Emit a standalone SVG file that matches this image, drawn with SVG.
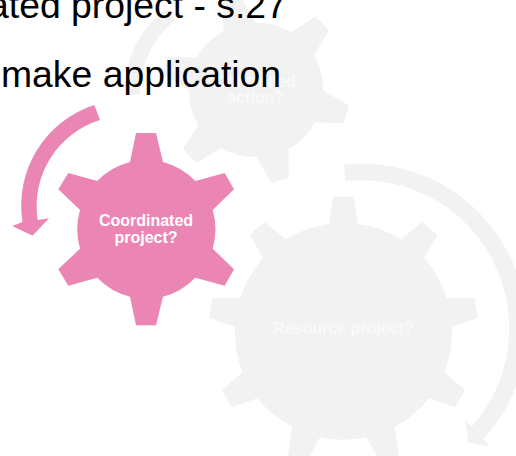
<svg xmlns="http://www.w3.org/2000/svg" width="516" height="456" viewBox="0 0 516 456">
<style>
.title{font-family:"Liberation Sans",Arial,sans-serif;font-size:37.33px;fill:#000}
.label{font-family:"Liberation Sans",Arial,sans-serif;font-size:16px;font-weight:700;fill:#fff;text-anchor:middle}
.faint{fill-opacity:.6}
.pink{fill:#eb85b4}
.grey{fill:#f2f2f2}
</style>
<defs>
<path id="gear6" d="M-10,-96 H10 L17,-67 A69,69 0 0 1 49.3,-48 L78.7,-56 L88,-39.7 L66.7,-19 A69,69 0 0 1 66.7,19.7 L88,40.3 L78.7,56.7 L49.3,48.7 A69,69 0 0 1 17,67.7 L10,96.3 H-10 L-16,67.7 A69,69 0 0 1 -48.7,48.7 L-77.7,56.7 L-87.7,40.3 L-66,19.7 A69,69 0 0 1 -66,-19 L-87.7,-39.7 L-77.7,-56 L-48.7,-48 A69,69 0 0 1 -16,-67 Z"/>
</defs>
<g id="connectors">
<path class="pink" d="M94.3,105 A105.7,105.7 0 0 0 22.5,222 L12.3,226 L32.5,235.7 L49,218.3 L37.7,220 A90,90 0 0 1 100,120 Z"/>
<path class="grey" d="M344,164.7 A164.5,164.5 0 0 1 483.3,439.3 L490,446.7 L468.3,442.7 L465,420 L471.7,426.7 A148,148 0 0 0 345.7,181 Z"/>
<path class="grey" d="M125,95 C124,60 140,28 166,9 L175,20 C153,38 140,64 140,95 Z"/>
</g>
<g id="node-controlled-action">
<use href="#gear6" class="grey" transform="translate(256,89.5) rotate(45) scale(.975)"/>
<text class="label faint" x="255.7" y="86.7">Controlled</text>
<text class="label faint" x="255.7" y="102.7">action?</text>
</g>
<g id="node-resource-project">
<path class="grey" d="M333.3,196.7 H353.7 L358,224 A108,108 0 0 1 401.3,239.3 L422.3,222 L437.3,234.7 L424,258.3 A108,108 0 0 1 446.7,298 H474.3 L477.7,318 L451.7,327 A108,108 0 0 1 444.3,372.3 L465,390 L455,407.3 L429,398.3 A108,108 0 0 1 394.7,426.7 L399,456 H376.7 L366.3,437.3 A108,108 0 0 1 320,437.3 L310,456 H288 L292.3,426.7 A108,108 0 0 1 257.3,398.3 L232,407.3 L222,390 L242.7,372.3 A108,108 0 0 1 235,327 L209,318 L212.3,298 H240.3 A108,108 0 0 1 263,258.3 L249.7,234.7 L264.7,222 L286,239.3 A108,108 0 0 1 329,224 Z"/>
<text class="label faint" x="343.3" y="334">Resource project?</text>
</g>
<g id="node-coordinated-project">
<use href="#gear6" class="pink" transform="translate(146,229)"/>
<text class="label" x="146" y="226">Coordinated</text>
<text class="label" x="146" y="242.7">project?</text>
</g>
<g id="title">
<text class="title" x="-12" y="17.5">ated project - s.27</text>
<text class="title" x="1" y="86.7">make application</text>
</g>
</svg>
